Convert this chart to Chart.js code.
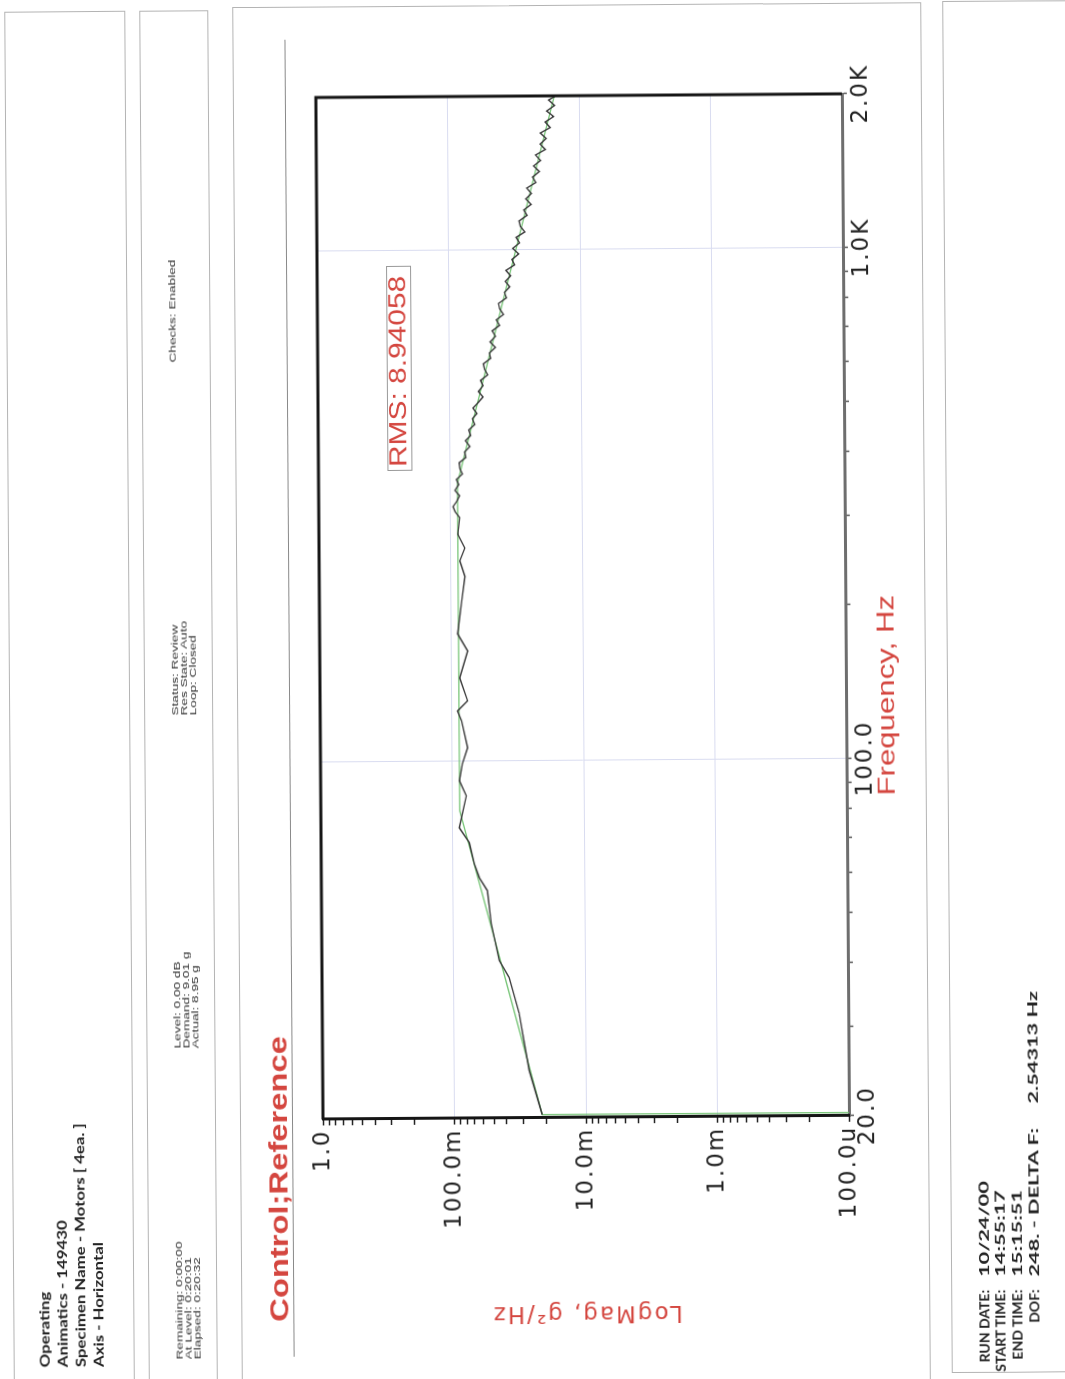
<!DOCTYPE html>
<html><head><meta charset="utf-8">
<script src="https://cdn.jsdelivr.net/npm/chart.js@4"></script>
<style>
html,body{margin:0;padding:0;background:#fff;width:1065px;height:1379px;overflow:hidden}
#skew{position:absolute;left:0;top:0;width:1065px;height:1379px;transform-origin:532.5px 689.5px;transform:rotate(-0.4deg)}
#rot{position:absolute;left:0;top:0;width:1379px;height:1065px;transform-origin:0 0;transform:translate(0px,1379px) rotate(-90deg)}
.panel{position:absolute;box-sizing:border-box;border:1.5px solid #b4b4b4}
canvas{position:absolute;left:0;top:0}
</style></head>
<body>
<div id="skew"><div id="rot">
<div class="panel" style="left:-10px;top:9px;width:1381px;height:121px"></div>
<div class="panel" style="left:-10px;top:144px;width:1381px;height:69px"></div>
<div class="panel" style="left:-10px;top:237px;width:1384px;height:689px"></div>
<div class="panel" style="left:3px;top:947px;width:1372px;height:140px"></div>
<div style="position:absolute;left:24px;top:289px;width:1317px;height:0;border-top:1.5px solid #8a8a8a"></div>
<div style="position:absolute;left:909px;top:389px;width:205px;height:25px;box-sizing:border-box;border:1.5px solid #9a9a9a"></div>
<canvas id="c" width="1379" height="1065"></canvas>
</div></div>
<script>
// ---- data ----
const controlFreq = [20.3, 24.8, 32.1, 37.7, 40.7, 48.1, 55.8, 59.2, 63.0, 69.3, 74.1, 85.6, 91.6, 98.9, 106.3, 120, 125.5, 131.3, 145.6, 164.4, 177.5, 206, 230, 246.6, 261.4, 278,
  300, 308, 315, 323, 331, 339, 348, 356, 365, 374, 384, 393, 403, 413, 424, 434, 445, 456, 468, 479, 491, 504, 516, 529, 543, 556, 570, 584, 599, 614, 629, 645, 661, 678, 695, 712, 730, 748, 767, 786, 806, 826, 847, 868, 890, 912, 935, 958, 982, 1007, 1032, 1058, 1084, 1111, 1139, 1168, 1197, 1227, 1258, 1289, 1321, 1354, 1388, 1423, 1459, 1495, 1533, 1571, 1610, 1651, 1692, 1734, 1778, 1822, 1868, 1915, 1963, 2000];
const controlMag = [0.0215, 0.0269, 0.0318, 0.0377, 0.0448, 0.0513, 0.0547, 0.0629, 0.0685, 0.0746, 0.0887, 0.0781, 0.088, 0.0833, 0.076, 0.0842, 0.0902, 0.0755, 0.0866, 0.075, 0.0891, 0.0826, 0.078, 0.0851, 0.0778, 0.0879,
  0.0849, 0.0920, 0.0953, 0.0889, 0.0849, 0.0920, 0.0859, 0.0895, 0.0805, 0.0842, 0.0849, 0.0756, 0.0772, 0.0703, 0.0760, 0.0693, 0.0716, 0.0644, 0.0672, 0.0620, 0.0664, 0.0603, 0.0556, 0.0602, 0.0554, 0.0579, 0.0510, 0.0539, 0.0550, 0.0484, 0.0495, 0.0445, 0.0488, 0.0443, 0.0469, 0.0413, 0.0436, 0.0384, 0.0410, 0.0419, 0.0365, 0.0377, 0.0343, 0.0371, 0.0338, 0.0366, 0.0314, 0.0329, 0.0292, 0.0324, 0.0288, 0.0305, 0.0262, 0.0283, 0.0289, 0.0252, 0.0266, 0.0234, 0.0256, 0.0233, 0.0252, 0.0215, 0.0227, 0.0202, 0.0223, 0.0197, 0.0215, 0.0181, 0.0198, 0.0178, 0.0197, 0.0166, 0.0181, 0.0156, 0.0176, 0.0153, 0.0170, 0.0150];
const refFreq = [20.3, 20.3, 80, 350, 2000];
const refMag = [0.0001, 0.0215, 0.088, 0.088, 0.0154];

const freqTicks = [20,30,40,50,60,70,80,90,100,200,300,400,500,600,700,800,900,1000,2000];
const freqLabelValues = [20, 100, 1000, 2000];
const freqLabelTexts = ['20.0', '100.0', '1.0K', '2.0K'];
const magTicks = [0.0001,0.0002,0.0003,0.0004,0.0005,0.0006,0.0007,0.0008,0.0009,
  0.001,0.002,0.003,0.004,0.005,0.006,0.007,0.008,0.009,
  0.01,0.02,0.03,0.04,0.05,0.06,0.07,0.08,0.09,
  0.1,0.2,0.3,0.4,0.5,0.6,0.7,0.8,0.9,1];
const magLabelValues = [1, 0.1, 0.01, 0.001, 0.0001];
const magLabelTexts = ['1.0', '100.0m', '10.0m', '1.0m', '100.0u'];
const freqGrid = [100, 1000];
const magGrid = [0.1, 0.01, 0.001];

const near = (a, b) => Math.abs(Math.log10(a) - Math.log10(b)) < 1e-6;
const lookup = (v, vals, texts) => { const i = vals.findIndex(t => near(t, v)); return i < 0 ? '' : texts[i]; };

const RED = '#d4463f';
const frame = {
  id: 'frame',
  beforeDraw(chart) { chart.ctx.letterSpacing = '2px'; },
  afterDraw(chart) {
    const {ctx, chartArea: a} = chart;
    ctx.save();
    ctx.strokeStyle = '#151515'; ctx.lineWidth = 3;
    ctx.beginPath(); ctx.moveTo(a.left, a.top); ctx.lineTo(a.right, a.top); ctx.lineTo(a.right, a.bottom); ctx.stroke();
    ctx.restore();
  }
};

new Chart(document.getElementById('c'), {
  type: 'line',
  data: {
    datasets: [
      { label: 'Control', data: controlFreq.map((f, i) => ({x: f, y: controlMag[i]})), borderColor: '#3a3a3a', borderWidth: 1.4, pointRadius: 0, tension: 0 },
      { label: 'Reference', data: refFreq.map((f, i) => ({x: f, y: refMag[i]})), borderColor: '#74c474', borderWidth: 1.3, pointRadius: 0, tension: 0 }
    ]
  },
  options: {
    responsive: false, animation: false, devicePixelRatio: 1,
    layout: { padding: { left: 30, right: 96, top: 320, bottom: 159 } },
    plugins: { legend: { display: false }, tooltip: { enabled: false } },
    scales: {
      x: {
        type: 'logarithmic', min: 20, max: 2000,
        afterBuildTicks: s => { s.ticks = freqTicks.map(v => ({value: v})); },
        afterFit: s => { s.height = 60; },
        ticks: { autoSkip: false, maxRotation: 0, minRotation: 0, padding: 0, color: '#222',
          font: { family: 'DejaVu Sans', size: 23 },
          callback: v => lookup(v, freqLabelValues, freqLabelTexts) },
        grid: { tickLength: 5, tickWidth: 1.5, tickColor: '#555', lineWidth: 1,
          color: c => (c.tick && freqGrid.some(g => near(g, c.tick.value))) ? '#d9dcf0' : 'rgba(0,0,0,0)' },
        border: { color: '#6e6e6e', width: 3 }
      },
      y: {
        type: 'logarithmic', min: 0.0001, max: 1,
        afterBuildTicks: s => { s.ticks = magTicks.map(v => ({value: v})); },
        afterFit: s => { s.width = 231; },
        ticks: { autoSkip: false, padding: 4, color: '#222',
          font: { family: 'DejaVu Sans', size: 23 },
          callback: v => lookup(v, magLabelValues, magLabelTexts) },
        grid: { tickLength: 6, tickWidth: 1.5, tickColor: '#222', lineWidth: 1,
          color: c => (c.tick && magGrid.some(g => near(g, c.tick.value))) ? '#d9dcf0' : 'rgba(0,0,0,0)' },
        border: { color: '#151515', width: 3 },
        title: { display: true, text: 'LogMag, g²/Hz', color: RED, padding: { top: 22, bottom: 0 },
          font: { family: 'DejaVu Sans', size: 23 } }
      }
    }
  },
  plugins: [frame]
});

// ---- texts ----
const rot = document.getElementById('rot');
const K = { 'Liberation Sans': 0.846, 'Lato': 0.887, 'DejaVu Sans': 0.846 };
function txt(s, x, base, size, o) {
  o = o || {};
  const fam = o.family || 'Liberation Sans';
  const e = document.createElement('div');
  e.textContent = s;
  let css = `position:absolute;white-space:nowrap;top:${base - size * K[fam]}px;font-family:'${fam}';font-size:${size}px;font-weight:${o.weight || 'normal'};line-height:${size}px;color:${o.color || '#222'};transform:scaleX(${o.sx || 1});`;
  if (o.right) css += `right:${1379 - x}px;transform-origin:100% 0;`;
  else css += `left:${x}px;transform-origin:0 0;`;
  e.style.cssText = css;
  rot.appendChild(e);
}
// header panel
txt('Operating', 15, 45, 14, {family: 'Lato', weight: 'bold', sx: 1.2});
txt('Animatics - 149430', 15, 63, 14, {family: 'Lato', weight: 'bold', sx: 1.2});
txt('Specimen Name - Motors [ 4ea. ]', 15, 81, 14, {family: 'Lato', weight: 'bold', sx: 1.2});
txt('Axis - Horizontal', 15, 99, 14, {family: 'Lato', weight: 'bold', sx: 1.2});
// status panel
const st = [
  [22, ['Remaining: 0:00:00', 'At Level: 0:20:01', 'Elapsed: 0:20:32']],
  [333, ['Level: 0.00 dB', 'Demand: 9.01 g', 'Actual: 8.95 g']],
  [666, ['Status: Review', 'Res State: Auto', 'Loop: Closed']],
  [1019, ['Checks: Enabled']]
];
st.forEach(([x, lines]) => lines.forEach((l, i) => txt(l, x, 178 + i * 9, 8.5, {sx: 1.6, color: '#333'})));
// chart panel texts
txt('Control;Reference', 59, 284, 25, {weight: 'bold', color: RED, sx: 1.31});
txt('RMS: 8.94058', 913, 408, 23, {color: RED, sx: 1.3});
txt('Frequency, Hz', 581, 894, 24, {color: RED, sx: 1.3});
// run info
const runL = ['RUN DATE:', 'START TIME:', 'END TIME:', 'DOF:'];
const runV = ['10/24/00', '14:55:17', '15:15:51', '248. - DELTA F:'];
runL.forEach((l, i) => txt(l, 86, 985 + i * 16.7, 14, {family: 'Lato', weight: 'bold', right: true, sx: 1.0}));
runV.forEach((v, i) => txt(v, 99, 985 + i * 16.7, 14, {family: 'Lato', weight: 'bold', sx: 1.55}));
txt('2.54313 Hz', 272, 985 + 3 * 16.7, 14, {family: 'Lato', weight: 'bold', sx: 1.55});
</script>
</body></html>
